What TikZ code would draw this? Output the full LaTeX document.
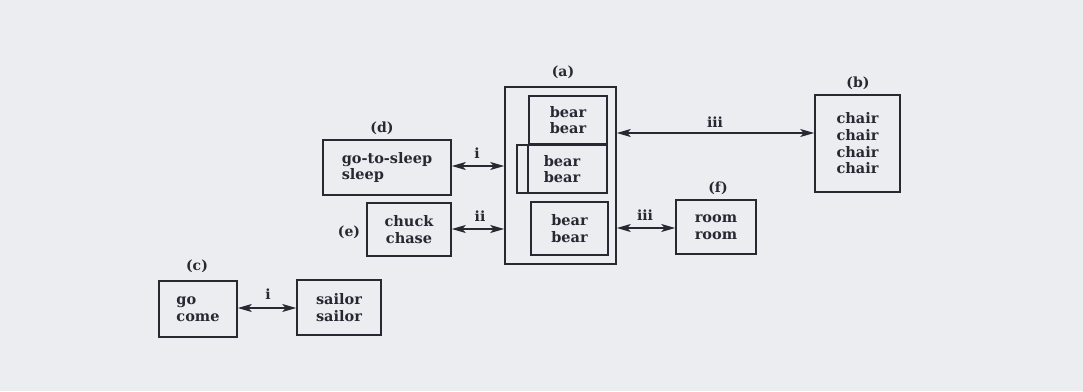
\documentclass[tikz,border=0pt]{standalone}
\usepackage{fontspec}
\setmainfont{DejaVu Serif}
\usetikzlibrary{arrows.meta}
\definecolor{bg}{RGB}{236,237,241}
\definecolor{ink}{RGB}{40,40,50}
\begin{document}
\begin{tikzpicture}[x=1pt,y=-1pt,
  box/.style={draw=ink, line width=1.6pt, inner sep=0pt, align=center, text=ink,
    font=\bfseries\fontsize{14.5}{16.7}\selectfont},
  lab/.style={text=ink, inner sep=0pt, font=\bfseries\fontsize{14}{15}\selectfont},
  conn/.style={draw=ink, line width=1.5pt, {Stealth[length=14pt,width=8pt,inset=3.5pt]}-{Stealth[length=14pt,width=8pt,inset=3.5pt]}},
  ln/.style={draw=ink, line width=1.6pt}]
\fill[bg] (0,0) rectangle (1083,391);
\useasboundingbox (0,0) rectangle (1083,391);
% (a)
\node[box, minimum width=111pt, minimum height=177pt] (a) at (560.5,175.5) {};
\node[box, minimum width=78pt, minimum height=48pt] (a1) at (568,120) {bear\\bear};
\node[box, minimum width=90pt, minimum height=48pt] (a2) at (562,169) {bear\\bear};
\node[box, minimum width=77pt, minimum height=53pt] (a3) at (569.5,228.5) {bear\\bear};
\draw[ln] (a1.south west) -- (a2.south -| a1.west);
\node[lab] (la) at (563,72) {(a)};
% (b)
\node[box, minimum width=85pt, minimum height=97pt] (b) at (857.5,143.5) {chair\\chair\\chair\\chair};
\node[lab] (lb) at (858,83) {(b)};
% (d)
\node[box, align=left, minimum width=128pt, minimum height=55pt] (d) at (387,167.5) {go-to-sleep\\sleep};
\node[lab] (ld) at (382,128) {(d)};
% (e)
\node[box, minimum width=84pt, minimum height=53pt] (e) at (409,229.5) {chuck\\chase};
\node[lab] (le) at (349,232) {(e)};
% (f)
\node[box, minimum width=80pt, minimum height=54pt] (f) at (716,227) {room\\room};
\node[lab] (lf) at (718,188) {(f)};
% (c)
\node[box, align=left, minimum width=78pt, minimum height=56pt] (c) at (198,309) {go\\come};
\node[lab] (lc) at (197,266) {(c)};
\node[box, minimum width=84pt, minimum height=55pt] (s) at (339,307.5) {sailor\\sailor};
% connectors
\draw[conn] (d.east |- 0,166) -- (a.west |- 0,166);
\node[lab] (li1) at (477,153) {i};
\draw[conn] (e.east |- 0,229) -- (a.west |- 0,229);
\node[lab] (lii) at (480,216) {ii};
\draw[conn] (a.east |- 0,133) -- (b.west |- 0,133);
\node[lab] (liii1) at (715,122) {iii};
\draw[conn] (a.east |- 0,228) -- (f.west |- 0,228);
\node[lab] (liii2) at (645,215) {iii};
\draw[conn] (c.east |- 0,308) -- (s.west |- 0,308);
\node[lab] (li2) at (268,294) {i};
\end{tikzpicture}
\end{document}
